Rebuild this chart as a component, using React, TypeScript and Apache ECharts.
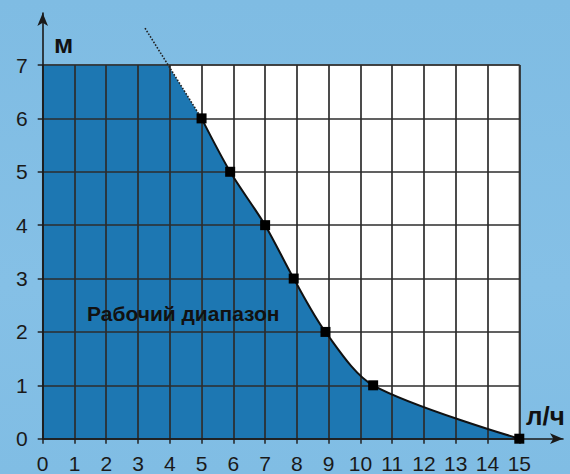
import React, { useEffect, useRef } from "react";
import * as echarts from "echarts";

const xMin = 0;
const xMax = 15;
const yMin = 0;
const yMax = 7;
const curveX = [5, 5.9, 7, 7.9, 8.9, 10.4, 15];
const curveY = [6, 5, 4, 3, 2, 1, 0];
const plateauX = [0, 3.94, 5];
const plateauY = [7, 7, 6];
const dottedX = [3.22, 5];
const dottedY = [7.69, 6];
const yUnit = "м";
const xUnit = "л/ч";
const areaLabel = "Рабочий диапазон";

const zip = (a: number[], b: number[]) => a.map((v, i) => [v, b[i]]);

export default function App() {
  const ref = useRef<HTMLDivElement>(null);
  useEffect(() => {
    if (!ref.current) return;
    const chart = echarts.init(ref.current, undefined, { renderer: "svg" });
    const font = "'Liberation Sans', Arial, sans-serif";
    const blue = "#1d77b2";
    const gridLine = { color: "#2c2c2c", width: 1.7 };
    chart.setOption({
      animation: false,
      grid: [
        {
          left: 42.7,
          right: 50.7,
          top: 65,
          bottom: 35.3,
          show: true,
          backgroundColor: "#ffffff",
          borderColor: "#666",
          borderWidth: 1.5,
        },
        { left: 42.7, right: 7, top: 13, bottom: 35.3, show: false },
      ],
      xAxis: [
        {
          type: "value",
          gridIndex: 0,
          min: xMin,
          max: xMax,
          interval: 1,
          z: 3,
          axisLine: { show: false },
          axisTick: { show: true, length: 5, lineStyle: { color: "#222", width: 1.5 } },
          axisLabel: { fontSize: 21, margin: 14, color: "#1a1a1a", fontFamily: font },
          splitLine: { show: true, lineStyle: gridLine },
        },
        {
          type: "value",
          gridIndex: 1,
          min: 0,
          max: 1,
          z: 4,
          axisLine: {
            show: true,
            onZero: false,
            symbol: ["none", "arrow"],
            symbolSize: [8, 13],
            lineStyle: { color: "#1a1a1a", width: 1.6 },
          },
          axisTick: { show: false },
          axisLabel: { show: false },
          splitLine: { show: false },
        },
      ],
      yAxis: [
        {
          type: "value",
          gridIndex: 0,
          min: yMin,
          max: yMax,
          interval: 1,
          z: 3,
          axisLine: { show: false },
          axisTick: { show: true, length: 5, lineStyle: { color: "#222", width: 1.5 } },
          axisLabel: { fontSize: 21, margin: 15, color: "#1a1a1a", fontFamily: font },
          splitLine: { show: true, lineStyle: gridLine },
        },
        {
          type: "value",
          gridIndex: 1,
          min: 0,
          max: 1,
          z: 4,
          axisLine: {
            show: true,
            onZero: false,
            symbol: ["none", "arrow"],
            symbolSize: [8, 13],
            lineStyle: { color: "#1a1a1a", width: 1.6 },
          },
          axisTick: { show: false },
          axisLabel: { show: false },
          splitLine: { show: false },
        },
      ],
      series: [
        {
          type: "line",
          xAxisIndex: 0,
          yAxisIndex: 0,
          data: zip(plateauX, plateauY),
          showSymbol: false,
          lineStyle: { width: 0 },
          areaStyle: { color: blue, opacity: 1 },
          z: 1,
          silent: true,
        },
        {
          type: "line",
          xAxisIndex: 0,
          yAxisIndex: 0,
          data: zip(curveX, curveY),
          smooth: 0.3,
          showSymbol: false,
          lineStyle: { width: 0 },
          areaStyle: { color: blue, opacity: 1 },
          z: 1,
          silent: true,
        },
        {
          type: "line",
          xAxisIndex: 0,
          yAxisIndex: 0,
          data: zip(dottedX, dottedY),
          showSymbol: false,
          clip: false,
          lineStyle: { color: "#222", width: 1.6, type: "dotted" },
          z: 5,
        },
        {
          type: "line",
          xAxisIndex: 0,
          yAxisIndex: 0,
          data: zip(curveX, curveY),
          smooth: 0.3,
          symbol: "rect",
          symbolSize: 10,
          clip: false,
          itemStyle: { color: "#000" },
          lineStyle: { color: "#111", width: 2 },
          z: 6,
        },
      ],
      graphic: [
        {
          type: "text",
          x: 87,
          y: 313,
          z: 10,
          style: {
            text: areaLabel,
            font: `bold 21px ${font}`,
            fill: "#111",
            verticalAlign: "middle",
          },
        },
        {
          type: "text",
          x: 54,
          y: 44,
          z: 10,
          style: {
            text: yUnit,
            font: `bold 26px ${font}`,
            fill: "#111",
            verticalAlign: "middle",
          },
        },
        {
          type: "text",
          x: 526,
          y: 416,
          z: 10,
          style: {
            text: xUnit,
            font: `bold 26px ${font}`,
            fill: "#111",
            verticalAlign: "middle",
          },
        },
      ],
    });
    return () => chart.dispose();
  }, []);
  return (
    <div
      ref={ref}
      style={{
        position: "fixed",
        left: 0,
        top: 0,
        width: 570,
        height: 474,
        background: "linear-gradient(180deg, #7fbce3 0%, #85c0e6 60%, #80bde4 100%)",
      }}
    />
  );
}
